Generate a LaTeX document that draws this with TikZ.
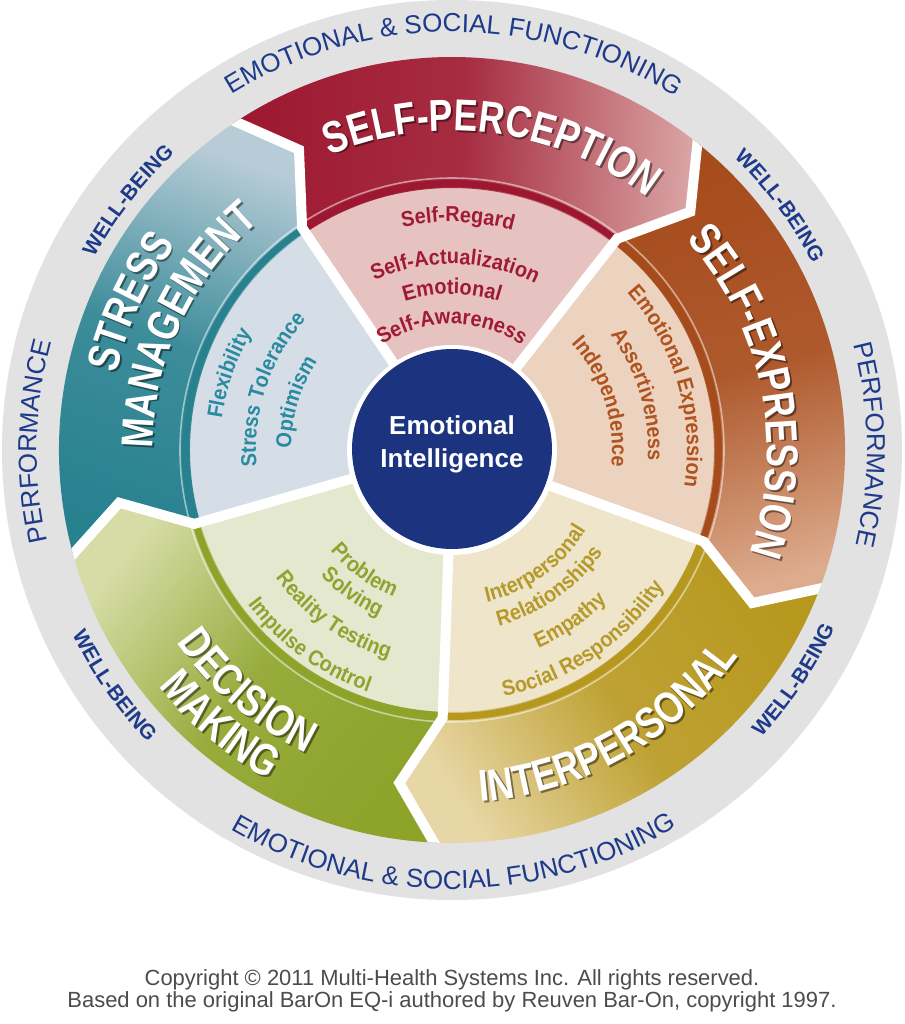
\documentclass[tikz,border=0pt]{standalone}
\usepackage{fontspec}
\setmainfont{Liberation Sans}
\newfontfamily\bandfam[FakeStretch=0.8]{Liberation Sans}
\newfontfamily\itemfam[FakeStretch=0.92]{Liberation Sans}
\usetikzlibrary{decorations.text}

\definecolor{ringgray}{HTML}{E2E2E2}
\definecolor{ringblue}{HTML}{1E3A8A}
\definecolor{hubblue}{HTML}{1C347F}
\definecolor{spdark}{HTML}{9D1730}
\definecolor{splight}{HTML}{D9A3A3}
\definecolor{spregion}{HTML}{E6C3C1}
\definecolor{sptext}{HTML}{A11A33}
\definecolor{sedark}{HTML}{A64B1C}
\definecolor{selight}{HTML}{DDAC8E}
\definecolor{seregion}{HTML}{ECD3C0}
\definecolor{setext}{HTML}{B0531F}
\definecolor{ipdark}{HTML}{B7981F}
\definecolor{iplight}{HTML}{E8D7A6}
\definecolor{ipregion}{HTML}{EEE5CA}
\definecolor{iptext}{HTML}{B59A2B}
\definecolor{dmdark}{HTML}{8DA32A}
\definecolor{dmlight}{HTML}{D5DCA6}
\definecolor{dmregion}{HTML}{E4E8CE}
\definecolor{dmtext}{HTML}{8EA42E}
\definecolor{smdark}{HTML}{27818F}
\definecolor{smlight}{HTML}{B7CCD7}
\definecolor{smregion}{HTML}{D5DEE7}
\definecolor{smtext}{HTML}{2A8AA0}

\newcommand\bandfont{\bandfam\bfseries\fontsize{25.4}{26}\selectfont}
\newcommand\itemfont{\itemfam\bfseries\fontsize{12.3}{13}\selectfont}
\newcommand\ringfont{\fontsize{14.8}{15}\selectfont}
\newcommand\wellfont{\bfseries\fontsize{11.9}{12}\selectfont}

% text on an arc round the centre: colour, centre angle, baseline radius, font, text
\newcommand\cwlabel[5]{%
  \path[decorate,decoration={text along path,text align=center,text color=#1,text={|#4|#5}}]
    (#2+85:#3) arc[start angle=#2+85,end angle=#2-85,radius=#3];}
\newcommand\ccwlabel[5]{%
  \path[decorate,decoration={text along path,text align=center,text color=#1,text={|#4|#5}}]
    (#2-85:#3) arc[start angle=#2-85,end angle=#2+85,radius=#3];}
\newcommand\cwtitle[3]{%
  \begin{scope}[shift={(1.8,-1.8)},opacity=.45]\cwlabel{black}{#1}{#2}{\bandfont}{#3}\end{scope}
  \cwlabel{white}{#1}{#2}{\bandfont}{#3}}
\newcommand\ccwtitle[3]{%
  \begin{scope}[shift={(1.8,-1.8)},opacity=.45]\ccwlabel{black}{#1}{#2}{\bandfont}{#3}\end{scope}
  \ccwlabel{white}{#1}{#2}{\bandfont}{#3}}

\begin{document}
\begin{tikzpicture}[x=0.02cm, y=0.02cm,
  gap/.style={white, line width=0.2cm},
  hub/.style={circle, fill=hubblue, minimum size=4cm, inner sep=0pt},
  hubtext/.style={text=white, align=center, inner sep=0pt, font=\bfseries\fontsize{14.8}{18.8}\selectfont},
  note/.style={text=black!70, inner sep=0pt, font=\fontsize{12.5}{13}\selectfont},
]

\fill[white] (-452,-574) rectangle (452,450);
\useasboundingbox (-452,-574) rectangle (452,450);
\fill[ringgray] (0,0) circle[radius=450];

% five sectors: light inner part, shaded outer band, stripe
\foreach \a/\dk/\lt/\rg in {124/spdark/splight/spregion, 52/sedark/selight/seregion,
    -20/ipdark/iplight/ipregion, -92/dmdark/dmlight/dmregion, -164/smdark/smlight/smregion} {
  \fill[\rg] (0,0) -- (\a:270) arc[start angle=\a, end angle=\a-72, radius=270] -- cycle;
  \shade[left color=\dk, right color=\lt, middle color=\dk!85!\lt, shading angle=\a-36]
    (\a:262) -- (\a-7:337) -- (\a:393) arc[start angle=\a, end angle=\a-72, radius=393]
    -- (\a-79:337) -- (\a-72:262) arc[start angle=\a-72, end angle=\a, radius=262] -- cycle;
  \draw[\dk, line width=0.14cm] (\a:266.5) arc[start angle=\a, end angle=\a-72, radius=266.5];
  \draw[white, opacity=.5, line width=0.032cm] (\a:272) arc[start angle=\a, end angle=\a-72, radius=272];
}

% white gaps between sectors
\begin{scope}
  \clip (0,0) circle[radius=393];
  \foreach \a in {124,52,-20,-92,-164}
    \draw[gap] (0,0) -- (\a:268) -- (\a-7:337) -- (\a:400);
\end{scope}

\fill[white] (0,0) circle[radius=105];
\node[hub] (ei) at (0,1) {};
\node[hubtext] (eitext) at (0,6) {Emotional\\Intelligence};

% band titles
\cwtitle{82.4}{319}{SELF-PERCEPTION}
\cwtitle{11.4}{315}{SELF-EXPRESSION}
\ccwtitle{-60.5}{353}{INTERPERSONAL}
\ccwtitle{229.7}{336}{DECISION}
\ccwtitle{229.9}{377}{MAKING}
\cwtitle{155.3}{344}{STRESS}
\cwtitle{154.9}{299}{MANAGEMENT}

% subscales
\cwlabel{sptext}{88.5}{228}{\itemfont}{Self-Regard}
\cwlabel{sptext}{89}{186}{\itemfont}{Self-Actualization}
\cwlabel{sptext}{90}{156}{\itemfont}{Emotional}
\cwlabel{sptext}{90}{126}{\itemfont}{Self-Awareness}
\cwlabel{setext}{16.5}{235}{\itemfont}{Emotional Expression}
\cwlabel{setext}{16.5}{196}{\itemfont}{Assertiveness}
\cwlabel{setext}{18}{160}{\itemfont}{Independence}
\ccwlabel{iptext}{-54}{156}{\itemfont}{Interpersonal}
\ccwlabel{iptext}{-54.6}{182}{\itemfont}{Relationships}
\ccwlabel{iptext}{-55.3}{216}{\itemfont}{Empathy}
\ccwlabel{iptext}{-55.4}{252}{\itemfont}{Social Responsibility}
\ccwlabel{dmtext}{234}{158}{\itemfont}{Problem}
\ccwlabel{dmtext}{235}{182}{\itemfont}{Solving}
\ccwlabel{dmtext}{234.5}{218}{\itemfont}{Reality Testing}
\ccwlabel{dmtext}{234}{256}{\itemfont}{Impulse Control}
\cwlabel{smtext}{161}{232}{\itemfont}{Flexibility}
\cwlabel{smtext}{161.5}{196}{\itemfont}{Stress Tolerance}
\cwlabel{smtext}{163}{161}{\itemfont}{Optimism}

% outer ring
\cwlabel{ringblue}{89.7}{418}{\ringfont}{EMOTIONAL {\&} SOCIAL FUNCTIONING}
\ccwlabel{ringblue}{270.3}{439}{\ringfont}{EMOTIONAL {\&} SOCIAL FUNCTIONING}
\cwlabel{ringblue}{178.8}{415}{\ringfont}{PERFORMANCE}
\cwlabel{ringblue}{0.7}{415}{\ringfont}{PERFORMANCE}
\cwlabel{ringblue}{142.4}{406}{\wellfont}{WELL-BEING}
\cwlabel{ringblue}{36.7}{406}{\wellfont}{WELL-BEING}
\ccwlabel{ringblue}{214.9}{422}{\wellfont}{WELL-BEING}
\ccwlabel{ringblue}{-33.9}{422}{\wellfont}{WELL-BEING}

\node[note] (copy1) at (0,-530) {Copyright © 2011 Multi-Health Systems Inc. All rights reserved.};
\node[note] (copy2) at (0,-552) {Based on the original BarOn EQ-i authored by Reuven Bar-On, copyright 1997.};

\end{tikzpicture}
\end{document}
